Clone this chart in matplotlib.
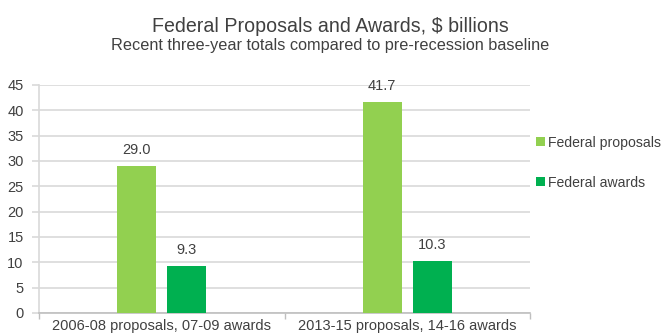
import matplotlib
matplotlib.use("Agg")
import matplotlib.pyplot as plt
import numpy as np

categories = ["2006-08 proposals, 07-09 awards", "2013-15 proposals, 14-16 awards"]
proposals = [29.0, 41.7]
awards = [9.3, 10.3]
series_names = ["Federal proposals", "Federal awards"]
yticks = [0, 5, 10, 15, 20, 25, 30, 35, 40, 45]

plt.rcParams["font.family"] = ["Liberation Sans", "DejaVu Sans"]
text_color = "#404040"
grid_color = "#D9D9D9"
c_prop = "#92D050"
c_award = "#00B050"

fig = plt.figure(figsize=(6.61, 3.35), dpi=100)
ax = fig.add_axes([39 / 661, 1 - 313 / 335, (530 - 39) / 661, (313 - 85) / 335])

x = np.arange(len(categories))
w = 0.158
off = 0.102
b1 = ax.bar(x - off, proposals, w, color=c_prop, label=series_names[0], zorder=3)
b2 = ax.bar(x + off, awards, w, color=c_award, label=series_names[1], zorder=3)

for bars, vals in ((b1, proposals), (b2, awards)):
    for r, v in zip(bars, vals):
        ax.text(r.get_x() + r.get_width() / 2, v + 1.8, f"{v:.1f}",
                ha="center", va="bottom", fontsize=10.5, color=text_color)

ax.set_xlim(-0.5, 1.5)
ax.set_ylim(0, 45)
ax.set_yticks(yticks)
ax.yaxis.grid(True, color=grid_color, linewidth=1.2, zorder=0)
ax.set_axisbelow(True)
ax.tick_params(axis="y", length=5, color=grid_color, labelsize=10.5,
               labelcolor=text_color, pad=6, width=1.2)

ax.set_xticks([-0.5, 0.5, 1.5], minor=False)
ax.set_xticklabels([])
ax.set_xticks(x, minor=True)
ax.set_xticklabels(categories, minor=True)
ax.tick_params(axis="x", which="major", length=4, color="#BFBFBF", width=1)
ax.tick_params(axis="x", which="minor", length=0, labelsize=10.5,
               labelcolor=text_color, pad=4.5)

for s in ("top", "right"):
    ax.spines[s].set_visible(False)
ax.spines["left"].set_color(grid_color)
ax.spines["left"].set_linewidth(1.2)
ax.spines["bottom"].set_color("#BFBFBF")
ax.spines["bottom"].set_linewidth(1.2)

fig.text(0.50, 1 - 32 / 335, "Federal Proposals and Awards, $ billions",
         ha="center", va="baseline", fontsize=14.1, color=text_color)
fig.text(0.50, 1 - 50 / 335, "Recent three-year totals compared to pre-recession baseline",
         ha="center", va="baseline", fontsize=11.7, color=text_color)

leg = fig.legend(handles=[b1, b2], labels=series_names,
                 loc="upper left", bbox_to_anchor=(0.803, 0.612),
                 frameon=False, fontsize=10.1, handlelength=0.6, handleheight=0.6,
                 handletextpad=0.25, labelspacing=1.85, borderaxespad=0)
for t in leg.get_texts():
    t.set_color(text_color)

fig.savefig("out.png", dpi=100)
